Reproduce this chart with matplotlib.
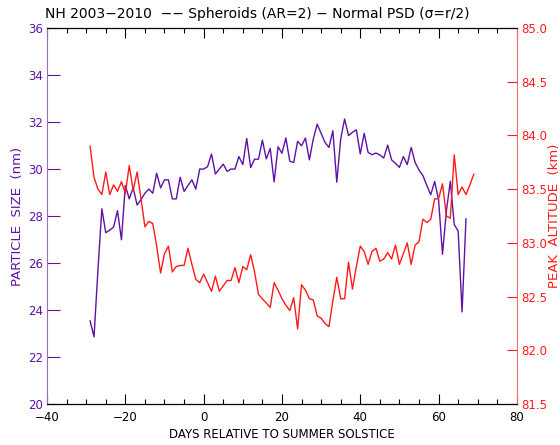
import matplotlib
matplotlib.use('Agg')
import matplotlib.pyplot as plt
from matplotlib.ticker import MultipleLocator, FormatStrFormatter

purple = '#5E12A6'
red = '#FF1A1A'

# particle size (nm), days -29 .. 67
size_days = list(range(-29, 68))
size_nm = [23.54, 22.86, 25.7, 28.31, 27.29, 27.4, 27.53, 28.23, 26.99, 29.3,
           28.73, 29.2, 28.47, 28.7, 28.97, 29.15, 28.97, 29.82, 29.2, 29.54,
           29.54, 28.73, 28.73, 29.65, 29.05, 29.3, 29.54, 29.15, 30.0, 30.0,
           30.1, 30.64, 29.79, 30.0, 30.21, 29.9, 30.0, 30.0, 30.53, 30.19,
           31.3, 30.06, 30.42, 30.42, 31.23, 30.43, 30.88, 29.45, 30.95, 30.67,
           31.32, 30.33, 30.28, 31.18, 30.99, 31.32, 30.39, 31.28, 31.91, 31.52,
           31.13, 30.92, 31.63, 29.44, 31.28, 32.13, 31.42, 31.56, 31.67, 30.64,
           31.52, 30.71, 30.61, 30.68, 30.6, 30.47, 31.02, 30.39, 30.24, 30.07,
           30.53, 30.19, 30.92, 30.28, 29.96, 29.72, 29.3, 28.91, 29.47, 28.69,
           26.37, 28.23, 29.48, 27.64, 27.36, 23.92, 27.88]

# peak altitude (km), days -29 .. 69
alt_days = list(range(-29, 70))
alt_km = [83.9, 83.61, 83.5, 83.45, 83.66, 83.45, 83.54, 83.48, 83.57, 83.46,
          83.72, 83.49, 83.66, 83.41, 83.15, 83.2, 83.18, 82.97, 82.72, 82.9,
          82.97, 82.73, 82.78, 82.79, 82.79, 82.95, 82.8, 82.66, 82.63, 82.71,
          82.63, 82.55, 82.69, 82.55, 82.6, 82.65, 82.65, 82.77, 82.63, 82.78,
          82.75, 82.89, 82.73, 82.52, 82.48, 82.44, 82.4, 82.63, 82.56, 82.48,
          82.42, 82.37, 82.49, 82.2, 82.61, 82.56, 82.48, 82.47, 82.32, 82.3,
          82.25, 82.22, 82.46, 82.68, 82.48, 82.48, 82.82, 82.57, 82.78, 82.97,
          82.92, 82.8, 82.92, 82.95, 82.83, 82.85, 82.91, 82.85, 82.98, 82.8,
          82.9, 83.0, 82.8, 82.98, 83.01, 83.22, 83.19, 83.22, 83.41, 83.41,
          83.55, 83.25, 83.23, 83.82, 83.45, 83.52, 83.45, 83.54, 83.64]

fig = plt.figure(figsize=(5.6, 4.45), dpi=100)
ax = fig.add_axes([0.084, 0.092, 0.839, 0.845])
ax2 = ax.twinx()

ax.plot(size_days, size_nm, color=purple, lw=1.0)
ax2.plot(alt_days, alt_km, color=red, lw=1.0)

ax.set_xlim(-40, 80)
ax.set_ylim(20, 36)
ax2.set_ylim(81.5, 85.0)

ax.xaxis.set_major_locator(MultipleLocator(20))
ax.xaxis.set_minor_locator(MultipleLocator(5))
ax.yaxis.set_major_locator(MultipleLocator(2))
ax2.yaxis.set_major_locator(MultipleLocator(0.5))
ax2.yaxis.set_major_formatter(FormatStrFormatter('%.1f'))

ax.tick_params(axis='x', which='both', direction='in', top=True, labelsize=8.5, width=0.8, pad=5)
ax.tick_params(axis='x', which='major', length=7)
ax.tick_params(axis='x', which='minor', length=3.5)
ax.tick_params(axis='y', direction='in', length=9, colors=purple, labelsize=8.5, width=0.8, pad=3)
ax2.tick_params(axis='y', direction='in', length=7, colors=red, labelsize=8.5, width=0.8, pad=3)

ax.spines['left'].set_color('#9A6CC8')
ax.spines['right'].set_visible(False)
ax2.spines['left'].set_visible(False)
ax2.spines['right'].set_color('#FF6A6A')
for a in (ax, ax2):
    a.spines['top'].set_linewidth(0.8)
    a.spines['bottom'].set_linewidth(0.8)

ax.set_xlabel('DAYS RELATIVE TO SUMMER SOLSTICE', fontsize=8.5, labelpad=3)
ax.set_ylabel('PARTICLE  SIZE  (nm)', color=purple, fontsize=9.5, labelpad=3)
ax2.set_ylabel('PEAK  ALTITUDE  (km)', color=red, fontsize=9.5, labelpad=0.5)
fig.text(0.459, 0.968, 'NH 2003\u22122010  \u2212\u2212 Spheroids (AR=2) \u2212 Normal PSD (\u03c3=r/2)',
         fontsize=10, ha='center', va='center')

fig.savefig('out.png', dpi=100)
